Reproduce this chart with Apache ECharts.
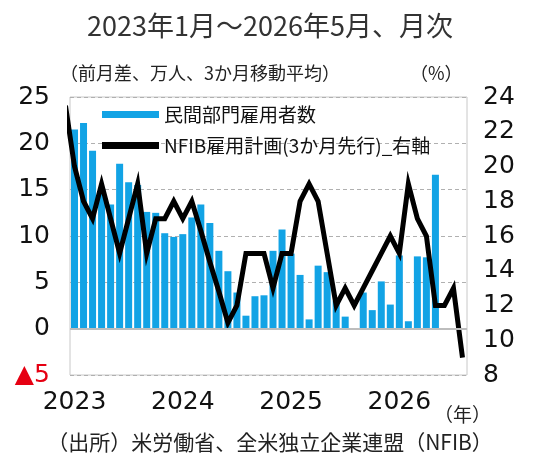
<!DOCTYPE html>
<html>
<head>
<meta charset="utf-8">
<script src="https://cdn.jsdelivr.net/npm/echarts@6/dist/echarts.min.js"></script>
<style>
html, body { margin: 0; padding: 0; background: #fff; }
#chart { width: 540px; height: 465px; }
</style>
</head>
<body>
<div id="chart"></div>
<script>
// 横軸：2023年1月～2026年8月（線は3か月先行なので棒より長い）
var months = [];
for (var y = 2023; y <= 2026; y++) {
  for (var m = 1; m <= 12; m++) months.push(y + '/' + m);
}
months = months.slice(0, 44);

// 民間部門雇用者数（前月差、万人、3か月移動平均） 2023/1～2026/5
var employment = [
  21.5, 22.2, 19.2, 15.2, 13.4, 17.8, 15.8, 15.5, 12.6, 12.5, 10.3, 9.9,
  10.2, 12.0, 13.4, 11.4, 8.4, 6.2, 3.9, 1.4, 3.5, 3.6, 8.4, 10.7,
  8.1, 5.8, 1.0, 6.8, 6.1, 3.0, 1.3, 0.0, 3.9, 2.0, 5.1, 2.6,
  7.9, 0.8, 7.8, 7.7, 16.6
]

// NFIB雇用計画（%） 2022/12～2026/8 の位置に表示（先頭は枠外で切れる）
var hiringPlans = [
  23.5,
  20, 18, 17, 19, 17, 15, 17, 19, 15, 17, 17, 18,
  17, 18, 16.3, 14.5, 12.8, 11, 12, 15, 15, 15, 13, 15,
  15, 18, 19, 18, 15, 12, 13, 12, 13, 14, 15, 16,
  15, 19, 17, 16, 12, 12, 13, 9
]
var hiringStart = -1 // 2022/12

var leftTicks = { min: -5, max: 25, step: 5 }
var rightTicks = { min: 8, max: 24, step: 2 }

var numFont = 'DejaVu Sans'
var jpFont = 'Noto Sans CJK JP'

var chart = echarts.init(document.getElementById('chart'))

chart.setOption({
  animation: false,
  title: {
    text: '2023年1月～2026年5月、月次',
    left: 'center',
    top: 7,
    textStyle: { fontFamily: jpFont, fontSize: 27, fontWeight: 'normal', color: '#333' }
  },
  legend: {
    orient: 'vertical',
    left: 97,
    top: 100,
    itemWidth: 57,
    itemHeight: 7,
    itemGap: 12,
    textStyle: { fontFamily: jpFont, fontSize: 19, color: '#111' },
    data: [
      { name: '民間部門雇用者数', icon: 'rect' },
      { name: 'NFIB雇用計画(3か月先行)_右軸', icon: 'rect' }
    ]
  },
  grid: {
    left: 70,
    right: 73,
    top: 97,
    bottom: 90,
    show: true,
    borderColor: '#c8c8c8',
    borderWidth: 1,
    outerBoundsMode: 'none'
  },
  xAxis: [
    {
      type: 'category',
      data: months,
      boundaryGap: true,
      axisLine: { show: false, onZero: false },
      axisTick: { show: false },
      axisLabel: {
        interval: 11,
        margin: 15,
        fontFamily: numFont,
        fontSize: 25,
        color: '#111',
        formatter: function (v) { return v.split('/')[0] }
      }
    },
    {
      // 線用（2022/12の点を枠で切るための数値軸）
      type: 'value',
      min: -0.5,
      max: months.length - 0.5,
      show: false
    }
  ],
  yAxis: [
    {
      type: 'value',
      min: leftTicks.min,
      max: leftTicks.max,
      interval: leftTicks.step,
      axisLine: { show: false },
      axisTick: { show: false },
      splitLine: { show: true, lineStyle: { color: '#b0b0b0', type: [4, 3] } },
      axisLabel: {
        margin: 20,
        fontFamily: numFont,
        fontSize: 25,
        color: function (v) { return v < 0 ? '#e60012' : '#111' },
        formatter: function (v) { return v < 0 ? '▲' + (-v) : v }
      }
    },
    {
      type: 'value',
      min: rightTicks.min,
      max: rightTicks.max,
      interval: rightTicks.step,
      position: 'right',
      axisLine: { show: false },
      axisTick: { show: false },
      splitLine: { show: false },
      axisLabel: { margin: 16, fontFamily: numFont, fontSize: 25, color: '#111' }
    }
  ],
  series: [
    {
      name: '民間部門雇用者数',
      type: 'bar',
      data: employment,
      barWidth: 7,
      itemStyle: { color: '#12a3e5' },
      markLine: {
        silent: true,
        symbol: 'none',
        label: { show: false },
        lineStyle: { color: '#bdbdbd', width: 2, type: 'solid' },
        data: [{ yAxis: 0 }]
      }
    },
    {
      name: 'NFIB雇用計画(3か月先行)_右軸',
      type: 'line',
      xAxisIndex: 1,
      yAxisIndex: 1,
      data: hiringPlans.map(function (v, i) { return [hiringStart + i, v] }),
      symbol: 'none',
      clip: true,
      lineStyle: { color: '#000', width: 5, join: 'miter' },
      itemStyle: { color: '#000' },
      z: 3
    }
  ],
  graphic: [
    {
      type: 'text', left: 60, top: 64,
      style: { text: '（前月差、万人、3か月移動平均）', font: '18px "Noto Sans CJK JP"', fill: '#222' }
    },
    {
      type: 'text', left: 410, top: 64,
      style: { text: '（%）', font: '18px "Noto Sans CJK JP"', fill: '#222' }
    },
    {
      type: 'text', left: 434, top: 405,
      style: { text: '（年）', font: '19px "Noto Sans CJK JP"', fill: '#222' }
    },
    {
      type: 'text', left: 'center', top: 432,
      style: { text: '（出所）米労働省、全米独立企業連盟（NFIB）', font: '21px "Noto Sans CJK JP"', fill: '#222' }
    }
  ]
})
</script>
</body>
</html>
